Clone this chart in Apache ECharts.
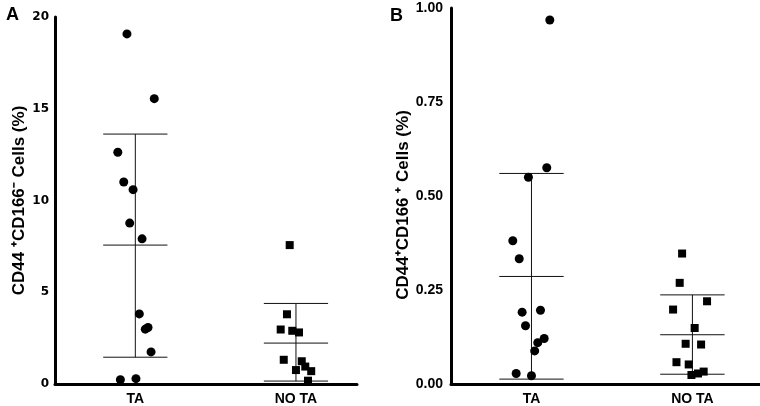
<!DOCTYPE html>
<html>
<head>
<meta charset="utf-8">
<script src="https://cdn.jsdelivr.net/npm/echarts@6/dist/echarts.min.js"></script>
<style>
  html, body { margin: 0; padding: 0; background: #fff; }
  #main { width: 760px; height: 406px; }
</style>
</head>
<body>
<div id="main"></div>
<script>
// groups on the x axis
const groups = ['TA', 'NO TA']

// panel A: CD44+CD166- cells (%)
const aTA = [19.08, 15.55, 12.63, 11.01, 10.59, 8.77, 7.91, 3.82, 2.99, 3.08, 1.75, 0.23, 0.29]
const aTAJitter = [-0.052, 0.118, -0.109, -0.072, -0.014, -0.035, 0.042, 0.025, 0.062, 0.079, 0.098, -0.093, 0.004]
const aNoTA = [7.57, 3.80, 2.97, 2.90, 2.81, 1.32, 1.24, 0.95, 0.76, 0.70, 0.18]
const aNoTAJitter = [-0.039, -0.056, -0.095, -0.023, 0.019, -0.076, 0.036, 0.058, 0, 0.095, 0.075]
const aMean = [7.57, 2.23]
const aLow = [1.46, 0.16]
const aHigh = [13.62, 4.39]
const aTicks = [0, 5, 10, 15, 20]

// panel B: CD44+CD166+ cells (%)
const bTA = [0.968, 0.575, 0.550, 0.381, 0.333, 0.191, 0.196, 0.155, 0.121, 0.110, 0.088, 0.028, 0.022]
const bTAJitter = [0.114, 0.095, -0.019, -0.116, -0.076, -0.058, 0.056, -0.037, 0.079, 0.039, 0.020, -0.095, 0]
const bNoTA = [0.347, 0.269, 0.220, 0.198, 0.149, 0.107, 0.105, 0.058, 0.052, 0.033, 0.028, 0.024]
const bNoTAJitter = [-0.064, -0.079, 0.091, -0.12, 0.014, -0.042, 0.054, -0.099, -0.023, 0.07, 0.035, -0.006]
const bMean = [0.286, 0.131]
const bLow = [0.013, 0.026]
const bHigh = [0.560, 0.237]
const bTicks = ['0.00', '0.25', '0.50', '0.75', '1.00']

function points (values, jitter, group) {
  return values.map((v, i) => [group + jitter[i], v])
}

function barRows (mean, low, high) {
  return mean.map((m, i) => [i, m, low[i], high[i]])
}

// mean line, SD caps and the vertical stem
function renderBars (params, api) {
  var x = api.value(0)
  var half = api.size([0.2, 0])[0]
  var top = api.coord([x, api.value(3)])
  var mid = api.coord([x, api.value(1)])
  var bot = api.coord([x, api.value(2)])
  var style = { stroke: '#111', lineWidth: 1 }
  return {
    type: 'group',
    children: [
      { type: 'line', shape: { x1: top[0], y1: top[1], x2: bot[0], y2: bot[1] }, style: style },
      { type: 'line', shape: { x1: top[0] - half, y1: top[1], x2: top[0] + half, y2: top[1] }, style: style },
      { type: 'line', shape: { x1: mid[0] - half, y1: mid[1], x2: mid[0] + half, y2: mid[1] }, style: style },
      { type: 'line', shape: { x1: bot[0] - half, y1: bot[1], x2: bot[0] + half, y2: bot[1] }, style: style }
    ]
  }
}

var chartDom = document.getElementById('main')
var myChart = echarts.init(chartDom)
var option

const axisLine = { show: true, onZero: false, lineStyle: { color: '#000', width: 3 } }
const nameStyle = { fontFamily: 'Liberation Sans', fontWeight: 'bold', fontSize: 17, color: '#000' }

function xAxisFor (gridIndex) {
  return {
    type: 'value',
    gridIndex: gridIndex,
    min: -0.5,
    max: gridIndex === 0 ? 1.38 : 1.42,
    axisLine: axisLine,
    axisTick: { show: false },
    splitLine: { show: false },
    axisLabel: {
      customValues: [0, 1],
      formatter: v => groups[Math.round(v)],
      color: '#000',
      fontFamily: 'Liberation Sans',
      fontWeight: 'bold',
      fontSize: 14,
      margin: 8
    }
  }
}

const scatterStyle = { color: '#000', opacity: 1 }

option = {
  animation: false,
  backgroundColor: '#fff',
  title: [
    { text: 'A', left: 1, top: 1, textStyle: { fontFamily: 'Liberation Sans', fontWeight: 'bold', fontSize: 18, color: '#000' } },
    { text: 'B', left: 385, top: 2, textStyle: { fontFamily: 'Liberation Sans', fontWeight: 'bold', fontSize: 18, color: '#000' } }
  ],
  grid: [
    { left: 55, right: 403, top: 17, bottom: 19 },
    { left: 451, right: 0, top: 8, bottom: 20 }
  ],
  xAxis: [xAxisFor(0), xAxisFor(1)],
  yAxis: [
    {
      type: 'value',
      gridIndex: 0,
      min: 0,
      max: 20,
      interval: 5,
      name: 'CD44 \u207aCD166\u207b Cells (%)',
      nameLocation: 'middle',
      nameGap: 27,
      nameTextStyle: nameStyle,
      axisLine: axisLine,
      axisTick: { show: false },
      splitLine: { show: false },
      axisLabel: {
        formatter: v => String(aTicks[aTicks.indexOf(v)]),
        color: '#000',
        fontFamily: 'DejaVu Sans',
        fontWeight: 'bold',
        fontSize: 12,
        margin: 6
      }
    },
    {
      type: 'value',
      gridIndex: 1,
      min: 0,
      max: 1,
      interval: 0.25,
      name: 'CD44\u207aCD166 \u207a Cells (%)',
      nameLocation: 'middle',
      nameGap: 37,
      nameTextStyle: Object.assign({ padding: [0, 18, 0, 0] }, nameStyle),
      axisLine: axisLine,
      axisTick: { show: false },
      splitLine: { show: false },
      axisLabel: {
        formatter: v => bTicks[Math.round(v * 4)],
        color: '#000',
        fontFamily: 'Liberation Sans',
        fontWeight: 'bold',
        fontSize: 14,
        margin: 8
      }
    }
  ],
  series: [
    {
      type: 'custom',
      xAxisIndex: 0,
      yAxisIndex: 0,
      renderItem: renderBars,
      data: barRows(aMean, aLow, aHigh),
      z: 1
    },
    {
      type: 'custom',
      xAxisIndex: 1,
      yAxisIndex: 1,
      renderItem: renderBars,
      data: barRows(bMean, bLow, bHigh),
      z: 1
    },
    { type: 'scatter', xAxisIndex: 0, yAxisIndex: 0, symbol: 'circle', symbolSize: 9, itemStyle: scatterStyle, data: points(aTA, aTAJitter, 0), z: 2 },
    { type: 'scatter', xAxisIndex: 0, yAxisIndex: 0, symbol: 'rect', symbolSize: 8, itemStyle: scatterStyle, data: points(aNoTA, aNoTAJitter, 1), z: 2 },
    { type: 'scatter', xAxisIndex: 1, yAxisIndex: 1, symbol: 'circle', symbolSize: 9, itemStyle: scatterStyle, data: points(bTA, bTAJitter, 0), z: 2 },
    { type: 'scatter', xAxisIndex: 1, yAxisIndex: 1, symbol: 'rect', symbolSize: 8, itemStyle: scatterStyle, data: points(bNoTA, bNoTAJitter, 1), z: 2 }
  ]
}

option && myChart.setOption(option)
</script>
</body>
</html>
